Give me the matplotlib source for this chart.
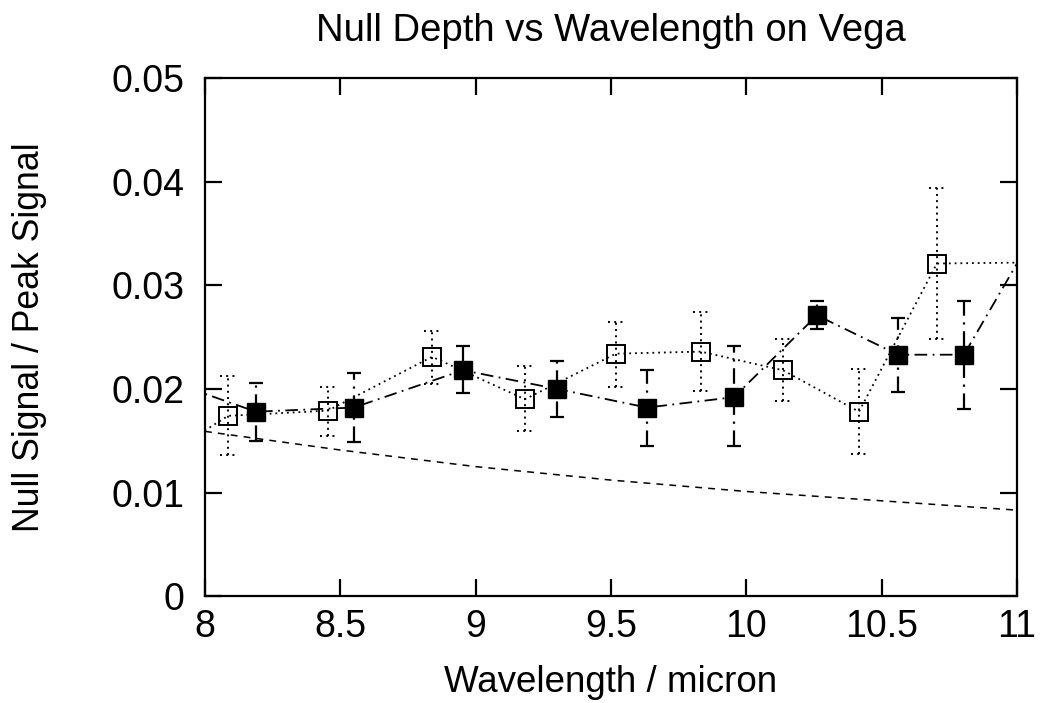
import matplotlib
matplotlib.use("Agg")
import matplotlib.pyplot as plt
import numpy as np

plt.rcParams['font.family'] = ['Liberation Sans', 'DejaVu Sans']

# Open squares (dotted series); first/last points lie outside the axis range
open_x = [7.80, 8.085, 8.454, 8.839, 9.182, 9.518, 9.832, 10.135, 10.416, 10.704, 11.05]
open_y = [0.0127, 0.0174, 0.0179, 0.0231, 0.0190, 0.0234, 0.0236, 0.0218, 0.0178, 0.0321, 0.0322]
open_lo = [0.0100, 0.0136, 0.0155, 0.0205, 0.0159, 0.0202, 0.0198, 0.0188, 0.0137, 0.0248, 0.0290]
open_hi = [0.0150, 0.0212, 0.0202, 0.0256, 0.0222, 0.0265, 0.0274, 0.0248, 0.0219, 0.0394, 0.0350]

# Filled squares (dash-dot series)
fill_x = [7.85, 8.188, 8.550, 8.953, 9.300, 9.633, 9.954, 10.261, 10.560, 10.804, 11.10]
fill_y = [0.0209, 0.0178, 0.0182, 0.0218, 0.0200, 0.0182, 0.0192, 0.0271, 0.0233, 0.0233, 0.0366]
fill_lo = [0.0180, 0.0150, 0.0149, 0.0196, 0.0173, 0.0145, 0.0145, 0.0258, 0.0197, 0.0181, 0.0330]
fill_hi = [0.0240, 0.0206, 0.0215, 0.0241, 0.0227, 0.0218, 0.0241, 0.0285, 0.0268, 0.0285, 0.0400]

# Dashed reference curve
ref_x = [8.0, 8.5, 9.0, 9.5, 10.0, 10.5, 11.0]
ref_y = [0.0159, 0.0141, 0.0125, 0.0112, 0.0101, 0.0092, 0.0083]

x_ticks = [8, 8.5, 9, 9.5, 10, 10.5, 11]
x_ticklabels = ['8', '8.5', '9', '9.5', '10', '10.5', '11']
y_ticks = [0, 0.01, 0.02, 0.03, 0.04, 0.05]
y_ticklabels = ['0', '0.01', '0.02', '0.03', '0.04', '0.05']

fig = plt.figure(figsize=(10.46, 7.03), dpi=100)
ax = fig.add_axes([0.196, 0.152, 0.7763, 0.737])

dotted = (0, (1.0, 2.2))
dashdot = (0, (7, 3, 1, 3))
dashed = (0, (4.5, 4))

# reference dashed line
ax.plot(ref_x, ref_y, color='black', lw=1.1, linestyle=dashed, zorder=2)

# open series
ax.plot(open_x, open_y, color='black', lw=1.3, linestyle=dotted, zorder=3)
capw_o = 0.03
ax.vlines(open_x, open_lo, open_hi, colors='black', lw=1.4, linestyles=[dotted], zorder=3)
ax.hlines(open_lo, np.array(open_x) - capw_o, np.array(open_x) + capw_o, colors='black', lw=1.4, linestyles=[dotted], zorder=3)
ax.hlines(open_hi, np.array(open_x) - capw_o, np.array(open_x) + capw_o, colors='black', lw=1.4, linestyles=[dotted], zorder=3)
ax.plot(open_x, open_y, linestyle='none', marker='s', markersize=13.5,
        markerfacecolor='none', markeredgecolor='black', markeredgewidth=1.4, zorder=4)

# filled series
ax.plot(fill_x, fill_y, color='black', lw=1.3, linestyle=dashdot, zorder=3)
capw_f = 0.027
ax.vlines(fill_x, fill_lo, fill_hi, colors='black', lw=1.6, linestyles=[dashdot], zorder=3)
ax.hlines(fill_lo, np.array(fill_x) - capw_f, np.array(fill_x) + capw_f, colors='black', lw=1.6, zorder=3)
ax.hlines(fill_hi, np.array(fill_x) - capw_f, np.array(fill_x) + capw_f, colors='black', lw=1.6, zorder=3)
ax.plot(fill_x, fill_y, linestyle='none', marker='s', markersize=12.5,
        markerfacecolor='black', markeredgecolor='black', zorder=5)

ax.set_xlim(8, 11)
ax.set_ylim(0, 0.05)
ax.set_xticks(x_ticks)
ax.set_xticklabels(x_ticklabels)
ax.set_yticks(y_ticks)
ax.set_yticklabels(y_ticklabels)

for s in ax.spines.values():
    s.set_linewidth(1.6)
ax.tick_params(direction='in', length=12, width=1.6, top=True, right=True,
               labelsize=27)
ax.tick_params(axis='x', pad=9)
ax.tick_params(axis='y', pad=15)

ax.set_title('Null Depth vs Wavelength on Vega', fontsize=27.5, pad=27)
ax.set_xlabel('Wavelength / micron', fontsize=26.5, labelpad=15)
ax.set_ylabel('Null Signal / Peak Signal', fontsize=25.7, labelpad=46)

fig.savefig('out.png', dpi=100)
